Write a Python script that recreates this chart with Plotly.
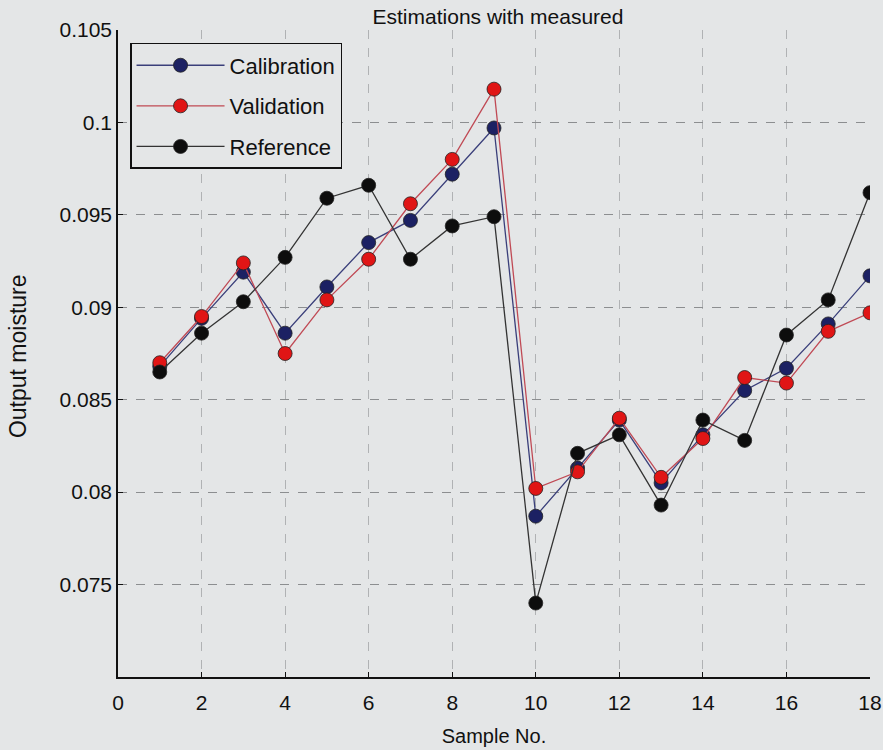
import plotly.graph_objects as go

samples = list(range(1, 19))
calibration = [0.0868, 0.0894, 0.0919, 0.0886, 0.0911, 0.0935, 0.0947, 0.0972, 0.0997,
               0.0787, 0.0813, 0.0839, 0.0805, 0.0831, 0.0855, 0.0867, 0.0891, 0.0917]
validation = [0.0870, 0.0895, 0.0924, 0.0875, 0.0904, 0.0926, 0.0956, 0.0980, 0.1018,
              0.0802, 0.0811, 0.0840, 0.0808, 0.0829, 0.0862, 0.0859, 0.0887, 0.0897]
reference = [0.0865, 0.0886, 0.0903, 0.0927, 0.0959, 0.0966, 0.0926, 0.0944, 0.0949,
             0.0740, 0.0821, 0.0831, 0.0793, 0.0839, 0.0828, 0.0885, 0.0904, 0.0962]

x_ticks = [0, 2, 4, 6, 8, 10, 12, 14, 16, 18]
y_ticks = [0.075, 0.08, 0.085, 0.09, 0.095, 0.1, 0.105]
y_tick_labels = ["0.075", "0.08", "0.085", "0.09", "0.095", "0.1", "0.105"]

series = [
    ("Calibration", calibration, "#1c2163", "#3a3f7a"),
    ("Validation", validation, "#e01515", "#c04a55"),
    ("Reference", reference, "#0d0d0d", "#333333"),
]

bg = "#e4e6e7"
fig = go.Figure()
for i, (name, vals, mcol, lcol) in enumerate(series):
    fig.add_trace(go.Scatter(
        x=samples, y=vals, name=name, mode="lines+markers",
        line=dict(color=lcol, width=1.3),
        marker=dict(color=mcol, size=14, line=dict(color="#222222", width=0.8)),
        legendgroup=f"g{i}",
    ))

font_family = "Liberation Sans, Arial, sans-serif"
axis_font = dict(family=font_family, size=21, color="#111111")
fig.update_layout(
    width=883, height=750,
    margin=dict(l=118, r=13, t=30, b=73),
    paper_bgcolor=bg, plot_bgcolor=bg,
    font=dict(family=font_family, color="#111111"),
    title=dict(text="Estimations with measured", x=0.564, xanchor="center",
               y=0.978, yanchor="middle", font=dict(size=21)),
    showlegend=True,
    legend=dict(x=0.016, y=0.98, xanchor="left", yanchor="top",
                bgcolor=bg, bordercolor="#111111", borderwidth=1.5,
                font=dict(size=22), tracegroupgap=9, itemwidth=88),
    xaxis=dict(range=[0, 18], tickvals=x_ticks, tickfont=axis_font,
               automargin=False, ticklabelstandoff=6,
               showline=True, linecolor="#111111", linewidth=1.5,
               ticks="inside", ticklen=5, tickcolor="#111111",
               showgrid=True, gridcolor="#b0b2b4", griddash="dash", gridwidth=1,
               zeroline=False, mirror=False,
               title=dict(text="Sample No.", font=dict(size=20), standoff=16)),
    yaxis=dict(range=[0.07, 0.105], tickvals=y_ticks, ticktext=y_tick_labels,
               tickfont=axis_font, automargin=False,
               showline=True, linecolor="#111111", linewidth=1.5,
               ticks="inside", ticklen=5, tickcolor="#111111",
               showgrid=True, gridcolor="#8c8e90", griddash="dash", gridwidth=1,
               zeroline=False, mirror=False),
    annotations=[dict(text="Output moisture", textangle=-90, xref="paper", yref="paper",
                      x=-0.133, y=0.496, xanchor="center", yanchor="middle",
                      showarrow=False, font=dict(size=23, family=font_family, color="#111111"))],
)

fig.write_html("out.html")
